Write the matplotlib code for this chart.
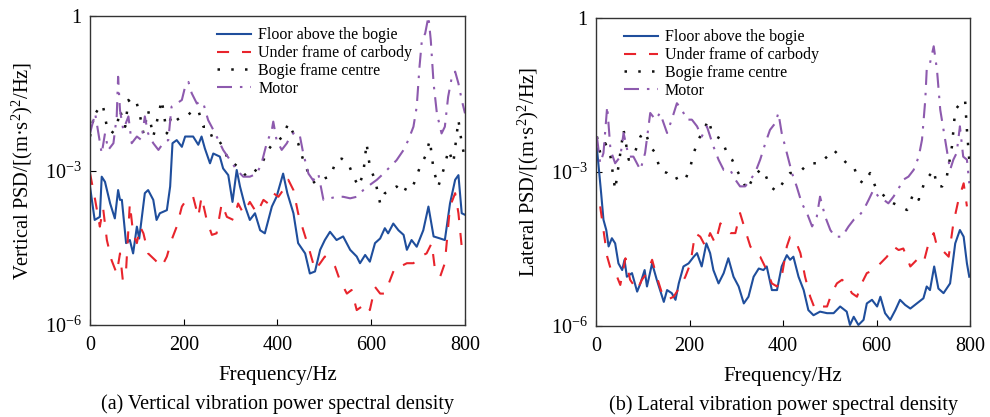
import numpy as np
import matplotlib
matplotlib.use("Agg")
import matplotlib.pyplot as plt
from matplotlib.ticker import FixedLocator, FuncFormatter

plt.rcParams['font.family'] = ['Liberation Serif', 'DejaVu Serif']
plt.rcParams['mathtext.fontset'] = 'custom'
plt.rcParams['mathtext.rm'] = 'Liberation Serif'
plt.rcParams['mathtext.it'] = 'Liberation Serif:italic'

labels = ["Floor above the bogie", "Under frame of carbody", "Bogie frame centre", "Motor"]

# (a) vertical, values are log10(PSD)
v_floor_f = [0, 10, 21, 25, 32, 43, 53, 60, 64, 68, 77, 85, 92, 100, 105, 117, 124, 135, 142, 149, 164, 171, 176, 185,
             196, 203, 220, 231, 238, 245, 256, 263, 277, 284, 295, 304, 313, 320, 331, 341, 352, 363, 373, 388, 398,
             412, 421, 434, 444, 459, 469, 480, 491, 501, 512, 526, 540, 555, 569, 576, 587, 597, 608, 619, 629, 636,
             647, 658, 669, 676, 686, 697, 711, 722, 733, 747, 757, 768, 779, 786, 793, 800]
v_floor = [-3.31, -3.96, -3.90, -3.12, -3.22, -3.64, -3.93, -3.38, -3.57, -3.57, -4.41, -4.35, -4.61, -4.09, -4.32,
           -3.44, -3.38, -3.57, -3.96, -3.83, -3.77, -3.31, -2.47, -2.41, -2.54, -2.34, -2.34, -2.50, -2.34, -2.57,
           -2.86, -2.67, -2.73, -2.96, -3.09, -3.61, -2.99, -3.31, -3.70, -3.96, -3.83, -4.16, -4.22, -3.70, -3.51,
           -3.06, -3.44, -3.83, -4.41, -4.61, -5.00, -4.96, -4.54, -4.35, -4.19, -4.35, -4.28, -4.54, -4.67, -4.80,
           -4.64, -4.77, -4.41, -4.32, -4.12, -4.22, -4.03, -4.16, -4.25, -4.54, -4.35, -4.48, -4.16, -3.70, -4.28,
           -4.32, -4.35, -3.64, -3.18, -3.09, -3.83, -3.86]

v_under_f = [0, 11, 21, 28, 36, 46, 57, 64, 70, 77, 85, 92, 100, 107, 114, 124, 139, 153, 164, 174, 185, 196, 210, 220,
             231, 238, 249, 260, 270, 281, 292, 306, 316, 327, 341, 356, 370, 380, 391, 402, 412, 423, 434, 444, 455,
             466, 480, 491, 501, 512, 523, 533, 548, 558, 569, 580, 590, 597, 608, 619, 629, 640, 651, 661, 676, 690,
             704, 718, 729, 736, 747, 757, 768, 779, 786, 793, 797]
v_under = [-3.05, -3.57, -4.09, -3.73, -4.35, -4.74, -5.00, -4.61, -5.13, -4.93, -3.64, -4.22, -4.41, -4.09, -4.22,
           -4.61, -4.74, -4.87, -4.67, -4.35, -4.09, -3.70, -3.51, -3.51, -3.90, -3.51, -3.96, -4.25, -4.22, -3.64,
           -3.90, -3.96, -3.64, -3.83, -3.61, -3.83, -3.57, -3.64, -3.44, -3.51, -3.38, -3.18, -3.38, -3.83, -4.16,
           -4.48, -4.93, -4.80, -4.67, -4.74, -4.87, -5.13, -5.39, -5.32, -5.71, -5.64, -5.58, -5.71, -5.26, -5.39,
           -5.39, -5.13, -4.87, -4.87, -4.80, -4.80, -4.67, -4.61, -4.41, -4.93, -5.06, -4.80, -3.70, -3.44, -3.83,
           -4.48, -4.61]

v_bogie_f = [0, 11, 21, 28, 36, 46, 57, 64, 75, 82, 92, 100, 107, 114, 124, 135, 142, 153, 164, 174, 185, 196, 206,
             220, 231, 242, 252, 263, 274, 284, 295, 306, 320, 334, 348, 359, 370, 380, 391, 402, 412, 423, 434, 444,
             455, 469, 480, 491, 501, 512, 526, 537, 551, 562, 573, 583, 590, 597, 608, 619, 629, 640, 654, 669, 679,
             690, 704, 715, 725, 733, 743, 754, 765, 775, 786, 793, 799]
v_bogie = [-2.34, -1.83, -1.89, -1.76, -2.15, -2.28, -2.15, -1.83, -2.15, -1.63, -1.76, -1.70, -1.95, -2.28, -1.83,
           -2.34, -2.08, -1.63, -2.28, -1.92, -2.02, -1.95, -1.95, -1.83, -1.83, -2.15, -2.15, -2.41, -2.41, -2.54,
           -2.80, -2.86, -2.96, -3.12, -3.06, -2.93, -2.80, -2.60, -2.47, -2.41, -2.34, -2.08, -2.28, -2.47, -2.80,
           -3.12, -3.25, -3.19, -3.15, -3.12, -2.80, -2.77, -2.86, -3.12, -3.31, -3.06, -2.47, -2.93, -3.18, -3.64,
           -3.44, -3.41, -3.31, -3.44, -3.25, -3.28, -2.93, -2.73, -2.41, -2.99, -3.31, -2.99, -2.60, -2.86, -2.02,
           -2.47, -2.73]

v_motor_f = [0, 11, 18, 25, 32, 39, 50, 57, 60, 64, 71, 82, 89, 100, 110, 117, 124, 135, 146, 156, 167, 174, 185, 196,
             203, 210, 217, 228, 235, 242, 252, 263, 274, 284, 299, 313, 327, 341, 356, 366, 377, 388, 391, 398, 409,
             420, 427, 437, 448, 455, 466, 476, 487, 498, 512, 526, 540, 555, 569, 583, 597, 612, 626, 640, 654, 669,
             679, 690, 697, 703, 708, 715, 722, 727, 733, 740, 750, 757, 764, 772, 779, 786, 793, 800]
v_motor = [-2.28, -1.89, -2.28, -2.67, -2.28, -2.60, -2.47, -1.95, -1.18, -1.83, -2.21, -1.95, -2.47, -2.34, -2.41,
           -1.95, -2.28, -2.47, -2.60, -2.47, -2.41, -1.76, -1.70, -1.63, -1.37, -1.28, -1.50, -1.70, -1.66, -1.70,
           -2.02, -2.21, -2.41, -2.60, -2.80, -2.99, -3.12, -3.12, -3.06, -2.86, -2.47, -2.21, -2.05, -2.41, -2.60,
           -2.47, -2.34, -2.25, -2.34, -2.67, -3.06, -3.19, -3.06, -3.57, -3.54, -3.51, -3.51, -3.54, -3.51, -3.38,
           -3.28, -3.18, -3.06, -2.93, -2.80, -2.60, -2.41, -2.15, -1.76, -0.98, -0.47, -0.34, -0.01, -0.47, -1.31,
           -1.89, -2.28, -2.15, -1.57, -1.18, -1.08, -1.31, -1.63, -1.89]

# (b) lateral, values are log10(PSD)
l_floor_f = [2, 7, 11, 16, 22, 27, 34, 41, 48, 56, 61, 66, 77, 88, 95, 104, 109, 120, 130, 145, 152, 162, 170, 177, 187,
             198, 209, 216, 226, 236, 244, 251, 262, 273, 283, 294, 305, 316, 326, 337, 348, 358, 365, 376, 387, 397,
             408, 415, 422, 433, 444, 454, 465, 479, 494, 508, 522, 536, 543, 551, 561, 572, 579, 590, 601, 608, 618,
             629, 640, 650, 661, 672, 686, 700, 707, 714, 723, 732, 743, 757, 768, 778, 786, 793, 798]
l_floor = [-2.54, -3.02, -3.41, -3.93, -4.13, -4.45, -4.29, -4.39, -4.78, -4.91, -4.71, -5.04, -4.97, -5.33, -5.17,
           -4.91, -5.23, -4.78, -5.10, -5.53, -5.30, -5.36, -5.49, -5.17, -4.84, -4.78, -4.65, -4.58, -4.84, -4.39,
           -4.58, -4.91, -5.17, -4.97, -4.68, -5.04, -5.23, -5.56, -5.43, -5.04, -4.88, -4.91, -4.84, -5.30, -5.30,
           -4.84, -4.62, -4.71, -4.65, -5.04, -5.30, -5.69, -5.79, -5.72, -5.75, -5.75, -5.62, -5.72, -5.98, -5.82,
           -5.98, -5.88, -5.56, -5.49, -5.62, -5.43, -5.75, -5.88, -5.69, -5.49, -5.59, -5.66, -5.56, -5.46, -5.23,
           -5.30, -4.84, -5.27, -5.36, -5.17, -4.39, -4.13, -4.26, -4.78, -5.04]

l_under_f = [9, 16, 24, 34, 45, 52, 63, 73, 88, 98, 109, 120, 130, 141, 152, 166, 180, 191, 202, 212, 223, 234, 244, 255,
             266, 276, 287, 298, 308, 319, 330, 340, 351, 365, 376, 387, 397, 408, 415, 426, 437, 447, 458, 469, 483,
             494, 504, 515, 526, 536, 547, 558, 568, 579, 593, 608, 622, 636, 647, 657, 672, 686, 700, 711, 722, 729,
             740, 754, 764, 775, 786, 793]
l_under = [-3.67, -4.13, -4.65, -4.97, -5.04, -5.20, -4.68, -5.10, -5.30, -5.10, -4.97, -4.71, -5.04, -5.36, -5.49,
           -5.43, -5.23, -5.04, -4.78, -4.19, -4.26, -4.45, -4.19, -4.39, -4.00, -4.13, -4.19, -4.19, -3.80, -4.13,
           -4.45, -4.58, -4.65, -4.91, -5.17, -5.23, -5.04, -4.45, -4.26, -4.32, -4.58, -5.04, -5.43, -5.69, -5.62,
           -5.62, -5.36, -5.17, -5.10, -5.17, -5.36, -5.43, -5.17, -4.97, -4.91, -4.78, -4.65, -4.45, -4.52, -4.49,
           -4.84, -4.71, -4.78, -4.39, -4.19, -4.45, -4.52, -4.65, -4.00, -3.54, -3.22, -3.67]

l_bogie_f = [2, 9, 20, 31, 41, 48, 59, 70, 80, 95, 105, 116, 127, 137, 152, 166, 180, 191, 202, 209, 219, 230, 241, 248,
             258, 269, 280, 291, 301, 312, 323, 337, 351, 358, 372, 387, 401, 415, 426, 440, 454, 469, 479, 494, 508,
             522, 536, 551, 561, 572, 586, 597, 611, 622, 636, 650, 665, 679, 690, 704, 711, 722, 729, 740, 750, 761,
             768, 779, 789, 793, 798]
l_bogie = [-2.31, -2.63, -2.44, -2.70, -3.35, -2.89, -2.18, -2.76, -2.70, -2.31, -2.21, -2.50, -2.63, -2.96, -3.02,
           -3.15, -3.09, -3.15, -2.89, -2.63, -2.37, -2.18, -1.98, -2.24, -2.31, -2.37, -2.63, -2.76, -2.96, -3.15,
           -3.35, -3.09, -2.96, -2.96, -3.28, -3.38, -3.19, -3.02, -3.02, -2.96, -2.83, -2.83, -2.83, -2.70, -2.57,
           -2.70, -2.83, -2.89, -3.15, -3.22, -3.02, -3.28, -3.41, -3.54, -3.61, -3.67, -3.74, -3.41, -3.54, -3.15,
           -3.09, -2.96, -3.28, -3.28, -3.09, -2.50, -1.79, -1.66, -1.59, -2.18, -2.76]

l_motor_f = [2, 9, 16, 24, 31, 41, 52, 59, 70, 80, 95, 105, 116, 127, 137, 152, 162, 173, 184, 194, 205, 216, 226, 237,
             251, 262, 273, 287, 298, 308, 319, 330, 340, 351, 362, 372, 383, 390, 397, 408, 419, 429, 440, 451, 462,
             472, 479, 490, 501, 511, 526, 540, 551, 561, 572, 583, 593, 604, 615, 625, 636, 647, 657, 668, 679, 690,
             697, 704, 707, 714, 722, 729, 736, 743, 750, 757, 764, 771, 778, 785, 793, 798]
l_motor = [-2.31, -2.83, -2.63, -1.72, -2.57, -2.83, -2.70, -2.24, -2.70, -2.70, -2.96, -2.63, -1.85, -1.98, -1.85,
           -2.24, -1.98, -1.66, -1.79, -1.98, -1.98, -2.11, -2.31, -2.11, -2.50, -2.76, -2.96, -2.96, -3.15, -3.28,
           -3.28, -3.15, -3.02, -2.76, -2.44, -2.18, -2.05, -1.85, -2.24, -2.63, -3.02, -3.28, -3.61, -3.80, -4.06,
           -3.87, -3.48, -3.87, -4.13, -4.26, -4.26, -4.06, -3.93, -3.87, -3.74, -3.54, -3.35, -3.48, -3.54, -3.61,
           -3.48, -3.32, -3.15, -3.09, -2.96, -2.70, -2.37, -1.59, -1.01, -0.88, -0.55, -1.01, -1.79, -2.18, -2.57,
           -2.96, -2.76, -2.63, -2.11, -2.70, -2.76, -3.22]

styles = [dict(color='#1f4e9c', ls='-', lw=1.5),
          dict(color='#e8242c', ls=(0, (5.8, 6.2)), lw=1.5),
          dict(color='#111111', ls=(0, (1, 4.5)), lw=1.8),
          dict(color='#8d5aae', ls=(0, (7.2, 3.8, 1.2, 3.8)), lw=1.5)]

fig = plt.figure(figsize=(9.9, 4.17), dpi=100)
ax1 = fig.add_axes([0.0909, 0.2206, 0.3788, 0.741])
ax2 = fig.add_axes([0.602, 0.2182, 0.378, 0.7386])

panels = [
    (ax1, [(v_floor_f, v_floor), (v_under_f, v_under), (v_bogie_f, v_bogie), (v_motor_f, v_motor)],
     r'Vertical PSD/[(m·s$^{2}$)$^{2}$/Hz]', '(a) Vertical vibration power spectral density', 0.31),
    (ax2, [(l_floor_f, l_floor), (l_under_f, l_under), (l_bogie_f, l_bogie), (l_motor_f, l_motor)],
     r'Lateral PSD/[(m·s$^{2}$)$^{2}$/Hz]', '(b) Lateral vibration power spectral density', 0.045),
]

for ax, series, ylab, cap, legx in panels:
    for (f, v), lab, st in zip(series, labels, styles):
        ax.plot(f, 10 ** np.array(v), label=lab, **st)
    ax.set_yscale('log')
    ax.set_xlim(0, 800)
    ax.set_ylim(1e-6, 1)
    ax.yaxis.set_major_locator(FixedLocator([1e-6, 1e-3, 1]))
    ax.yaxis.set_minor_locator(FixedLocator([]))
    ax.yaxis.set_major_formatter(FuncFormatter(
        lambda y, p: '1' if y >= 1 else r'$10^{%d}$' % round(np.log10(y))))
    ax.set_xticks([0, 200, 400, 600, 800])
    ax.tick_params(direction='in', length=4, labelsize=14.5, top=False, right=False)
    ax.tick_params(axis='x', pad=8)
    ax.tick_params(axis='y', pad=6)
    for s in ax.spines.values():
        s.set_linewidth(1.0)
        s.set_color('#333333')
    ax.set_xlabel('Frequency/Hz', fontsize=15, labelpad=8)
    ax.set_ylabel(ylab, fontsize=14.8, labelpad=7)
    ax.text(0.5, -0.256, cap, transform=ax.transAxes, ha='center', va='center', fontsize=14.5)
    ax.legend(loc='upper left', bbox_to_anchor=(legx, 1.0), frameon=False, fontsize=11.5,
              handlelength=2.1, handletextpad=0.45, labelspacing=0.12, borderaxespad=0.3)

fig.savefig('out.png', dpi=100)
